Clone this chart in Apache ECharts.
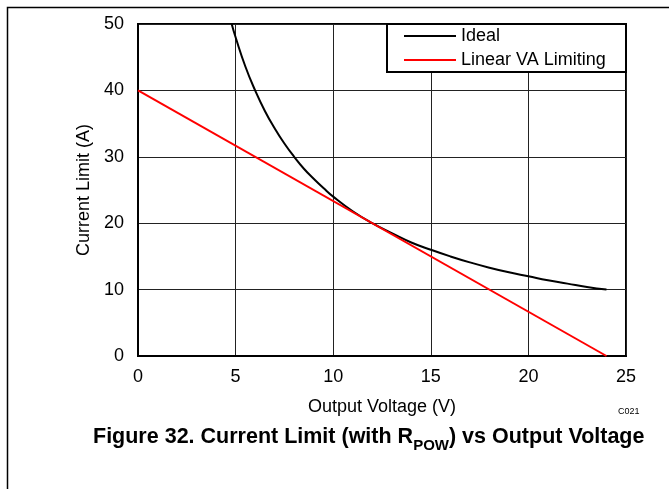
<!DOCTYPE html>
<html>
<head>
<meta charset="utf-8">
<script src="https://cdn.jsdelivr.net/npm/echarts@6/dist/echarts.min.js"></script>
<style>
html,body{margin:0;padding:0;background:#fff;}
#chart{width:669px;height:489px;}
</style>
</head>
<body>
<div id="chart"></div>
<script>
var seriesNames = ['Ideal', 'Linear VA Limiting'];
var idealVoltage = [4.8, 5, 5.5, 6, 6.5, 7, 7.5, 8, 8.5, 9, 9.5, 10, 11, 12, 13, 14, 15, 16, 17, 18, 19, 20, 21, 22, 23, 24];
var idealCurrent = [50, 48, 43.6, 40, 36.9, 34.3, 32, 30, 28.2, 26.7, 25.3, 24, 21.8, 20, 18.5, 17.1, 16, 15, 14.1, 13.3, 12.6, 12, 11.4, 10.9, 10.4, 10];
var linearVoltage = [0, 24];
var linearCurrent = [40, 0];
var xTicks = [0, 5, 10, 15, 20, 25];
var yTicks = [0, 10, 20, 30, 40, 50];

function pairs(xs, ys) { return xs.map(function (x, i) { return [x, ys[i]]; }); }

var font = 'Liberation Sans, Arial, sans-serif';
var chart = echarts.init(document.getElementById('chart'), null, {renderer: 'canvas'});
chart.setOption({
  animation: false,
  backgroundColor: '#fff',
  textStyle: {fontFamily: font},
  grid: {left: 138, right: 43, top: 24, bottom: 133, show: true, borderColor: '#000', borderWidth: 2, backgroundColor: 'transparent'},
  legend: {
    data: seriesNames,
    orient: 'vertical',
    left: 404, top: 27,
    padding: 0,
    itemGap: 6,
    itemWidth: 52, itemHeight: 18,
    z: 10,
    textStyle: {fontFamily: font, fontSize: 18, color: '#000'},
    icon: 'path://M0,8 L52,8 L52,10 L0,10 Z'
  },
  xAxis: {
    type: 'value', min: xTicks[0], max: xTicks[xTicks.length - 1], interval: 5,
    name: 'Output Voltage (V)', nameLocation: 'middle', nameGap: 42,
    nameTextStyle: {fontFamily: font, fontSize: 18, color: '#000'},
    axisLine: {show: true, lineStyle: {color: '#000', width: 2}},
    axisTick: {show: false},
    axisLabel: {fontFamily: font, fontSize: 18, color: '#000', margin: 12},
    splitLine: {show: true, lineStyle: {color: '#222', width: 1}}
  },
  yAxis: {
    type: 'value', min: yTicks[0], max: yTicks[yTicks.length - 1], interval: 10,
    name: 'Current Limit (A)', nameLocation: 'middle', nameGap: 44,
    nameTextStyle: {fontFamily: font, fontSize: 18, color: '#000'},
    axisLine: {show: true, lineStyle: {color: '#000', width: 2}},
    axisTick: {show: false},
    axisLabel: {fontFamily: font, fontSize: 18, color: '#000', margin: 14},
    splitLine: {show: true, lineStyle: {color: '#222', width: 1}}
  },
  series: [
    {name: seriesNames[0], type: 'line', data: pairs(idealVoltage, idealCurrent), showSymbol: false, smooth: true,
     lineStyle: {color: '#000', width: 2}, itemStyle: {color: '#000'}, z: 3},
    {name: seriesNames[1], type: 'line', data: pairs(linearVoltage, linearCurrent), showSymbol: false,
     lineStyle: {color: '#ff0000', width: 2}, itemStyle: {color: '#ff0000'}, z: 4}
  ],
  graphic: [
    {type: 'polyline', shape: {points: [[7.5, 489], [7.5, 7.5], [669, 7.5]]}, style: {fill: 'none', stroke: '#000', lineWidth: 1.5}, silent: true},
    {type: 'rect', z: 5, shape: {x: 387, y: 24, width: 239, height: 48}, style: {fill: '#fff', stroke: '#000', lineWidth: 2}, silent: true},
    {type: 'text', left: 618, top: 407, style: {text: 'C021', font: '9px Liberation Sans, Arial, sans-serif', fill: '#000'}},
    {type: 'text', left: 93, top: 426, style: {
      text: '{b|Figure 32. Current Limit (with R}{s|POW}{b|) vs Output Voltage}',
      rich: {
        b: {fontFamily: font, fontSize: 21.5, fontWeight: 'bold', fill: '#000', color: '#000', lineHeight: 26, verticalAlign: 'bottom'},
        s: {fontFamily: font, fontSize: 15, fontWeight: 'bold', fill: '#000', color: '#000', lineHeight: 26, verticalAlign: 'bottom', padding: [0, 0, -5, 0]}
      }
    }}
  ]
});
</script>
</body>
</html>
